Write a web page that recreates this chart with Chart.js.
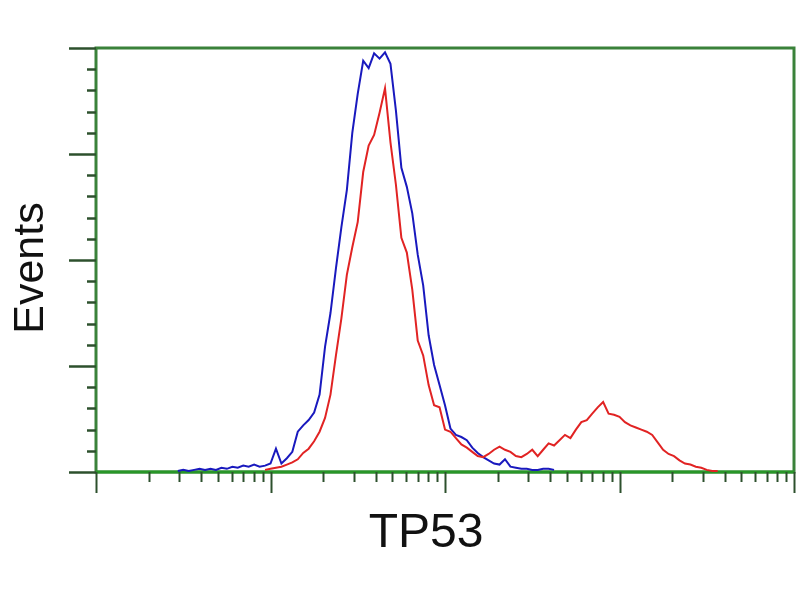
<!DOCTYPE html>
<html>
<head>
<meta charset="utf-8">
<script src="https://cdn.jsdelivr.net/npm/chart.js@4/dist/chart.umd.min.js"></script>
<style>
  html, body { margin: 0; padding: 0; background: #ffffff; }
  #wrap { width: 800px; height: 600px; }
</style>
</head>
<body>
<div id="wrap"><canvas id="c" width="800" height="600"></canvas></div>
<script>
// Histogram channels (64 channels per decade, 4 decades)
const channels = [
  30,32,34,36,38,40,42,44,46,48,
  50,52,54,56,58,60,62,64,66,68,
  70,72,74,76,78,80,82,84,86,88,
  90,92,94,96,98,100,102,104,106,108,
  110,112,114,116,118,120,122,124,126,128,
  130,132,134,136,138,140,142,144,146,148,
  150,152,154,156,158,160,162,164,166,168,
  170,172,174,176,178,180,182,184,186,188,
  190,192,194,196,198,200,202,204,206,208,
  210,212,214,216,218,220,222,224,226,228,
  230
];
// Control (blue) events per channel
const blueEvents = [
  1,2,1,2,3,2,3,2,4,3,
  5,4,6,5,7,5,6,8,22,8,
  13,19,38,44,49,56,73,118,150,192,
  231,266,320,357,388,381,395,390,396,385,
  341,287,269,244,205,176,129,101,82,63,
  41,35,33,30,23,18,14,11,8,7,
  12,5,4,3,3,2,2,3,3,2,
  null,null,null,null,null,null,null,null,null,null,
  null,null,null,null,null,null,null,null,null,null,
  null,null,null,null,null,null,null,null,null,null,
  null
];
// TP53 stained (red) events per channel
const redEvents = [
  null,null,null,null,null,null,null,null,null,null,
  null,null,null,null,null,null,2,3,4,5,
  7,9,12,18,22,29,38,51,73,110,
  145,186,212,236,283,308,318,339,362,311,
  271,221,207,172,124,110,82,63,61,40,
  38,32,26,23,19,15,14,17,21,24,
  21,19,15,14,17,21,15,21,27,25,
  30,35,32,40,47,49,55,61,66,55,
  54,52,47,44,42,40,38,35,28,21,
  17,15,11,8,7,5,4,2,1,1,
  null
];
const yMajorTicks = [0, 100, 200, 300, 400];
const xDecades = [1, 10, 100, 1000, 10000];
const xTitle = 'TP53';
const yTitle = 'Events';

const intensity = channels.map(c => Math.pow(10, c / 64));
const toPoints = arr => arr.map((v, i) => ({ x: intensity[i], y: v }));

const framePlugin = {
  id: 'frame',
  beforeDatasetsDraw(chart) {
    const ctx = chart.ctx;
    const a = chart.chartArea;
    const xs = chart.scales.x, ys = chart.scales.y;
    ctx.save();
    // box
    ctx.strokeStyle = 'rgb(58,130,58)';
    ctx.lineWidth = 3;
    ctx.strokeRect(a.left, a.top, a.right - a.left, a.bottom - a.top);
    ctx.strokeStyle = 'rgb(40,150,40)';
    ctx.beginPath(); ctx.moveTo(a.left, a.bottom); ctx.lineTo(a.right, a.bottom); ctx.stroke();
    // y ticks
    ctx.strokeStyle = 'rgb(45,80,45)';
    ctx.lineWidth = 2.5;
    for (let v = 0; v <= 400; v += 20) {
      const y = Math.round(ys.getPixelForValue(v)) + 0.5;
      const major = yMajorTicks.includes(v);
      ctx.beginPath();
      ctx.moveTo(a.left - (major ? 27 : 9), y);
      ctx.lineTo(a.left, y);
      ctx.stroke();
    }
    // x ticks
    ctx.lineWidth = 2;
    for (let d = 0; d < xDecades.length; d++) {
      const base = xDecades[d];
      const xp = Math.round(xs.getPixelForValue(base)) + 0.5;
      ctx.beginPath(); ctx.moveTo(xp, a.bottom); ctx.lineTo(xp, a.bottom + 21); ctx.stroke();
      if (d < xDecades.length - 1) {
        for (let k = 2; k <= 9; k++) {
          const xm = Math.round(xs.getPixelForValue(base * k)) + 0.5;
          ctx.beginPath(); ctx.moveTo(xm, a.bottom); ctx.lineTo(xm, a.bottom + 10); ctx.stroke();
        }
      }
    }
    ctx.restore();
  },
  afterDraw(chart) {
    const ctx = chart.ctx;
    ctx.save();
    ctx.fillStyle = '#111111';
    ctx.textAlign = 'center';
    ctx.textBaseline = 'alphabetic';
    ctx.font = '48px "Liberation Sans", Arial, sans-serif';
    ctx.fillText(xTitle, 426, 547);
    ctx.translate(43, 268);
    ctx.rotate(-Math.PI / 2);
    ctx.font = '43px "Liberation Sans", Arial, sans-serif';
    ctx.fillText(yTitle, 0, 0);
    ctx.restore();
  }
};

new Chart(document.getElementById('c'), {
  type: 'line',
  data: {
    datasets: [
      {
        label: 'TP53',
        data: toPoints(redEvents),
        borderColor: 'rgb(225,35,35)',
        borderWidth: 2,
        pointRadius: 0,
        tension: 0,
        spanGaps: false,
        fill: false
      },
      {
        label: 'Control',
        data: toPoints(blueEvents),
        borderColor: 'rgb(25,25,190)',
        borderWidth: 2,
        pointRadius: 0,
        tension: 0,
        spanGaps: false,
        fill: false
      }
    ]
  },
  options: {
    responsive: false,
    animation: false,
    parsing: true,
    layout: { padding: { left: 96, top: 48, right: 6, bottom: 128 } },
    plugins: { legend: { display: false }, tooltip: { enabled: false } },
    scales: {
      x: { type: 'logarithmic', min: 1, max: 10000, display: false },
      y: { type: 'linear', min: 0, max: 400, display: false }
    }
  },
  plugins: [framePlugin]
});
</script>
</body>
</html>
